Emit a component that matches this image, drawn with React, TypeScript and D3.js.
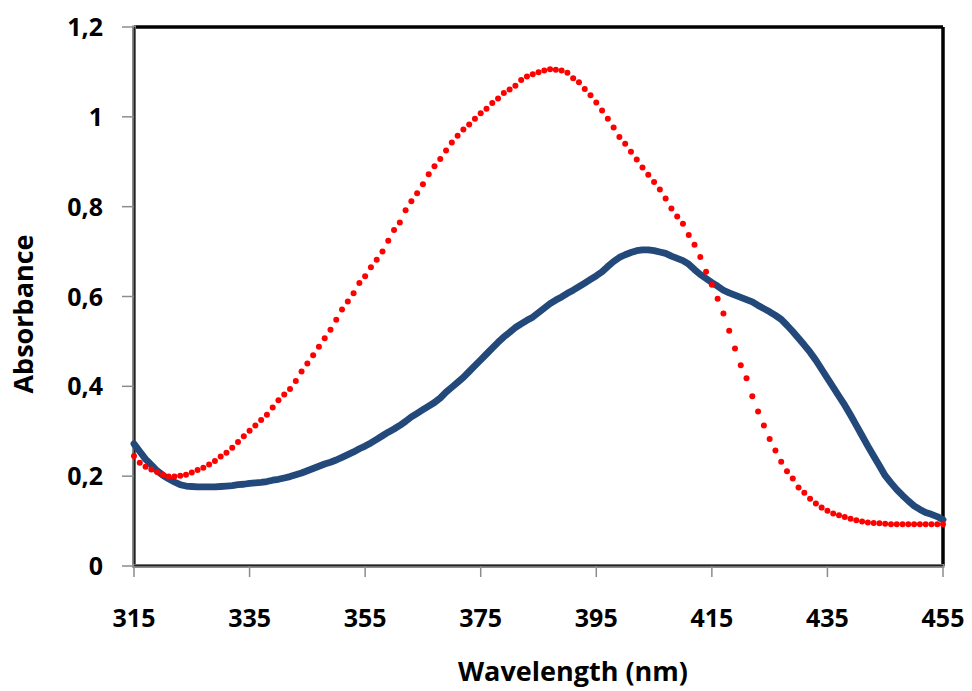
import React from "react";
import * as d3 from "d3";

const wavelengths: number[] = d3.range(315, 456, 1);

const seriesDotted: number[] = [
  0.245, 0.230, 0.221, 0.215, 0.209, 0.203, 0.199, 0.199, 0.201, 0.203,
  0.208, 0.214, 0.219, 0.226, 0.234, 0.244, 0.252, 0.263, 0.276, 0.289,
  0.301, 0.313, 0.325, 0.337, 0.353, 0.369, 0.382, 0.394, 0.412, 0.433,
  0.451, 0.469, 0.488, 0.507, 0.526, 0.548, 0.571, 0.589, 0.607, 0.630,
  0.645, 0.665, 0.682, 0.700, 0.724, 0.748, 0.765, 0.792, 0.812, 0.830,
  0.850, 0.872, 0.890, 0.906, 0.925, 0.943, 0.958, 0.972, 0.983, 0.996,
  1.008, 1.018, 1.031, 1.041, 1.053, 1.061, 1.069, 1.082, 1.090, 1.095,
  1.099, 1.103, 1.106, 1.105, 1.103, 1.098, 1.086, 1.077, 1.062, 1.048,
  1.032, 1.014, 0.996, 0.976, 0.955, 0.940, 0.922, 0.905, 0.887, 0.871,
  0.855, 0.838, 0.818, 0.796, 0.778, 0.762, 0.737, 0.715, 0.688, 0.655,
  0.626, 0.595, 0.562, 0.524, 0.484, 0.447, 0.418, 0.378, 0.344, 0.313,
  0.283, 0.257, 0.232, 0.211, 0.195, 0.175, 0.163, 0.150, 0.139, 0.130,
  0.123, 0.117, 0.113, 0.109, 0.105, 0.102, 0.099, 0.097, 0.096, 0.095,
  0.094, 0.093, 0.093, 0.093, 0.093, 0.093, 0.093, 0.093, 0.093, 0.093,
  0.093,
];

const seriesSolid: number[] = [
  0.272, 0.255, 0.238, 0.225, 0.212, 0.202, 0.194, 0.187, 0.181, 0.178,
  0.177, 0.176, 0.176, 0.176, 0.176, 0.177, 0.178, 0.179, 0.181, 0.182,
  0.184, 0.185, 0.186, 0.188, 0.191, 0.193, 0.196, 0.199, 0.203, 0.207,
  0.212, 0.217, 0.222, 0.227, 0.231, 0.236, 0.242, 0.248, 0.254, 0.261,
  0.267, 0.274, 0.282, 0.290, 0.298, 0.305, 0.313, 0.322, 0.332, 0.340,
  0.348, 0.356, 0.364, 0.374, 0.387, 0.398, 0.409, 0.420, 0.433, 0.446,
  0.459, 0.472, 0.485, 0.498, 0.510, 0.520, 0.531, 0.539, 0.547, 0.554,
  0.564, 0.574, 0.584, 0.592, 0.599, 0.607, 0.614, 0.622, 0.630, 0.638,
  0.646, 0.655, 0.667, 0.678, 0.687, 0.693, 0.698, 0.702, 0.704, 0.704,
  0.702, 0.699, 0.696, 0.690, 0.685, 0.680, 0.672, 0.660, 0.649, 0.640,
  0.631, 0.623, 0.614, 0.608, 0.603, 0.598, 0.593, 0.588, 0.580, 0.573,
  0.566, 0.558, 0.549, 0.536, 0.522, 0.507, 0.492, 0.476, 0.458, 0.438,
  0.418, 0.398, 0.378, 0.358, 0.336, 0.313, 0.290, 0.267, 0.245, 0.223,
  0.201, 0.185, 0.170, 0.157, 0.145, 0.134, 0.126, 0.119, 0.115, 0.110,
  0.103,
];

const xTicks: number[] = [315, 335, 355, 375, 395, 415, 435, 455];
const yTicks: number[] = [0, 0.2, 0.4, 0.6, 0.8, 1, 1.2];
const xTitle = "Wavelength (nm)";
const yTitle = "Absorbance";

const W = 972;
const H = 691;
const M = { left: 134, right: 943, top: 27, bottom: 566 };
const FONT = "'Open Sans', sans-serif";

export default function App() {
  const x = d3.scaleLinear().domain([315, 455]).range([M.left, M.right]);
  const y = d3.scaleLinear().domain([0, 1.2]).range([M.bottom, M.top]);
  const fmt = (v: number) => String(+v.toFixed(1)).replace(".", ",");

  const line = d3
    .line<number>()
    .x((_, i) => x(wavelengths[i]))
    .y((d) => y(d));

  return (
    <svg
      width={W}
      height={H}
      style={{ position: "absolute", left: 0, top: 0, background: "#fff" }}
      fontFamily={FONT}
    >
      <rect x={0} y={0} width={W} height={H} fill="#fff" />
      {/* frame */}
      <line x1={M.left} x2={M.right} y1={M.top} y2={M.top} stroke="#000" strokeWidth={3.5} />
      <line x1={M.right} x2={M.right} y1={M.top} y2={M.bottom} stroke="#000" strokeWidth={3.5} />
      {/* axes */}
      <line x1={M.left} x2={M.left} y1={M.top - 1.5} y2={M.bottom + 1.5} stroke="#8c8c8c" strokeWidth={4} />
      <line x1={M.left + 0.5} x2={M.left + 0.5} y1={M.top} y2={M.bottom} stroke="#222" strokeWidth={1.6} />
      <line x1={M.left - 1.5} x2={M.right + 1.5} y1={M.bottom} y2={M.bottom} stroke="#8c8c8c" strokeWidth={4} />
      <line x1={M.left} x2={M.right} y1={M.bottom - 0.5} y2={M.bottom - 0.5} stroke="#222" strokeWidth={1.6} />

      {yTicks.map((t) => (
        <g key={"y" + t}>
          <line x1={M.left - 12} x2={M.left} y1={y(t)} y2={y(t)} stroke="#8c8c8c" strokeWidth={1.5} />
          <text
            x={103}
            y={y(t)}
            dy="0.36em"
            textAnchor="end"
            fontSize={25}
            fontWeight={700}
            fill="#000"
          >
            {fmt(t)}
          </text>
        </g>
      ))}
      {xTicks.map((t) => (
        <g key={"x" + t}>
          <line x1={x(t)} x2={x(t)} y1={M.bottom} y2={M.bottom + 11} stroke="#8c8c8c" strokeWidth={1.5} />
          <text
            x={x(t)}
            y={627}
            textAnchor="middle"
            fontSize={25}
            fontWeight={700}
            fill="#000"
          >
            {t}
          </text>
        </g>
      ))}

      {/* series */}
      <path
        d={line(seriesSolid) || ""}
        fill="none"
        stroke="#23497b"
        strokeWidth={6.8}
        strokeLinejoin="round"
        strokeLinecap="round"
      />
      {seriesDotted.map((v, i) => (
        <circle key={"d" + i} cx={x(wavelengths[i])} cy={y(v)} r={3} fill="#ff0000" />
      ))}

      <text x={573} y={681} textAnchor="middle" fontSize={27} fontWeight={700} fill="#000">
        {xTitle}
      </text>
      <text
        transform={`translate(33,314) rotate(-90)`}
        textAnchor="middle"
        fontSize={27}
        fontWeight={700}
        fill="#000"
      >
        {yTitle}
      </text>
    </svg>
  );
}
